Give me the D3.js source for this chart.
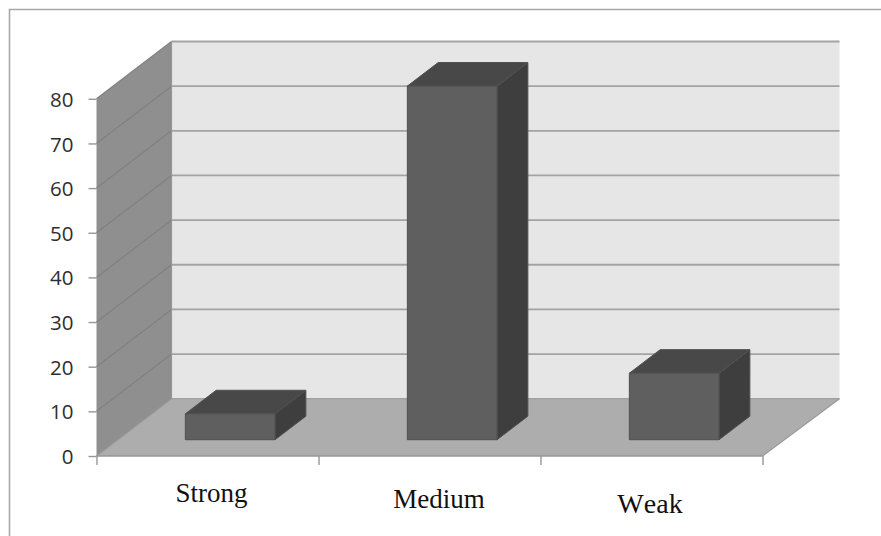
<!DOCTYPE html>
<html>
<head>
<meta charset="utf-8">
<script src="https://cdn.jsdelivr.net/npm/d3@7/dist/d3.min.js"></script>
<style>
  html, body { margin: 0; padding: 0; background: #fff; }
  svg { display: block; }
</style>
</head>
<body>
<svg id="chart" width="881" height="536"></svg>
<script>
// Category counts shown as a 3-D column chart
const categories = ["Strong", "Medium", "Weak"];
const values = [5.8, 79.2, 14.9];
const yTicks = [0, 10, 20, 30, 40, 50, 60, 70, 80];

const width = 881, height = 536;
const plot = { left: 96.5, right: 762.5, bottom: 456, top: 98.8 };
// Offset from the front of the floor to the back wall
const depth = { dx: 75, dy: -57.3 };
// The back wall and floor run slightly past the right-hand floor corner
const backOverhang = 2;
// Near and far faces of each column, as fractions of the floor depth
const barDepth = { near: 0.284, far: 0.695 };
// Columns sit a little right of the centre of their category slots
const barShift = 1.4;

const svg = d3.select("#chart");

const y = d3.scaleLinear().domain([0, 80]).range([plot.bottom, plot.top]);
const x = d3.scaleBand().domain(categories)
  .range([plot.left + barShift, plot.right + barShift])
  .paddingInner(0.596).paddingOuter(0.298);
const edge = d3.scaleLinear().domain([0, categories.length]).range([plot.left, plot.right]);

// Oblique projection: data-space x (px), value, depth fraction -> screen point
const project = (px, v, d) => [px + depth.dx * d, y(v) + depth.dy * d];
const line = d3.line();
const poly = pts => line(pts) + "Z";
const backRight = plot.right + backOverhang;

// Outer frame
svg.append("path")
  .attr("d", `M9.5,${height}V9.5H${width}`)
  .attr("fill", "none").attr("stroke", "#a8a8a8").attr("stroke-width", 1.6);

// Walls and floor
svg.append("path")
  .attr("d", poly([project(plot.left, 0, 1), project(backRight, 0, 1), project(backRight, 80, 1), project(plot.left, 80, 1)]))
  .attr("fill", "#e6e6e6");
svg.append("path")
  .attr("d", poly([project(plot.left, 0, 0), project(plot.left, 0, 1), project(plot.left, 80, 1), project(plot.left, 80, 0)]))
  .attr("fill", "#8f8f8f");
svg.append("path")
  .attr("d", poly([project(plot.left, 0, 0), project(plot.right, 0, 0), project(backRight, 0, 1), project(plot.left, 0, 1)]))
  .attr("fill", "#adadad");

// Gridlines run along the side wall and across the back wall
const grid = svg.append("g").attr("fill", "none");
yTicks.filter(t => t > 0).forEach(t => {
  grid.append("path")
    .attr("d", line([project(plot.left, t, 0), project(plot.left, t, 1)]))
    .attr("stroke", "#808080").attr("stroke-width", 1.2);
  grid.append("path")
    .attr("d", line([project(plot.left, t, 1), project(backRight, t, 1)]))
    .attr("stroke", "#a3a3a3").attr("stroke-width", 1.8);
});
grid.append("path")
  .attr("d", line([project(plot.left, 0, 1), project(plot.left, 80, 1)]))
  .attr("stroke", "#969696").attr("stroke-width", 1.2);
grid.append("path")
  .attr("d", line([project(plot.left, 0, 1), project(backRight, 0, 1)]))
  .attr("stroke", "#a0a0a0").attr("stroke-width", 1.2);
grid.append("path")
  .attr("d", line([project(plot.right, 0, 0), project(backRight, 0, 1)]))
  .attr("stroke", "#9a9a9a").attr("stroke-width", 1.2);
grid.append("path")
  .attr("d", line([project(plot.left, 0, 0), project(plot.left, 0, 1)]))
  .attr("stroke", "#969696").attr("stroke-width", 1.2);

// Columns: front, top and right faces
const bars = svg.append("g").selectAll("g")
  .data(categories.map((c, i) => ({ c, v: values[i] })))
  .join("g");
const bw = x.bandwidth();
const face = (fn, fill) => bars.append("path")
  .attr("d", d => poly(fn(x(d.c), d.v)))
  .attr("fill", fill).attr("stroke", "#505050").attr("stroke-width", 1)
  .attr("stroke-linejoin", "round");
face((l, v) => [project(l + bw, 0, barDepth.near), project(l + bw, 0, barDepth.far), project(l + bw, v, barDepth.far), project(l + bw, v, barDepth.near)], "#3e3e3e");
face((l, v) => [project(l, v, barDepth.near), project(l + bw, v, barDepth.near), project(l + bw, v, barDepth.far), project(l, v, barDepth.far)], "#484848");
face((l, v) => [project(l, 0, barDepth.near), project(l + bw, 0, barDepth.near), project(l + bw, v, barDepth.near), project(l, v, barDepth.near)], "#5f5f5f");

// Front edge of the floor
svg.append("path")
  .attr("d", line([project(plot.left, 0, 0), project(plot.right, 0, 0)]))
  .attr("stroke", "#969696").attr("stroke-width", 1.5);

// Value axis
const yAxis = svg.append("g")
  .attr("transform", `translate(${plot.left},0)`)
  .call(d3.axisLeft(y).tickValues(yTicks).tickSize(8).tickPadding(15));
yAxis.select(".domain").remove();
yAxis.selectAll("line").attr("stroke", "#969696").attr("stroke-width", 1.4);
yAxis.selectAll("text")
  .attr("dy", "0.37em")
  .attr("font-family", "'Open Sans', sans-serif").attr("font-size", 20.5).attr("fill", "#2e2e2e");

// Category separators below the floor
const xAxis = svg.append("g")
  .attr("transform", `translate(0,${plot.bottom})`)
  .call(d3.axisBottom(edge).tickValues(d3.range(categories.length + 1)).tickSize(9).tickFormat(""));
xAxis.select(".domain").remove();
xAxis.selectAll("line").attr("stroke", "#969696").attr("stroke-width", 1.4);

// Category names sit slightly staggered under the columns
const labelLayout = [
  { cx: 211.5, base: 502, size: 27 },
  { cx: 439, base: 508, size: 27 },
  { cx: 650, base: 513, size: 28 }
];
svg.append("g").selectAll("text")
  .data(categories)
  .join("text")
  .attr("x", (d, i) => labelLayout[i].cx)
  .attr("y", (d, i) => labelLayout[i].base)
  .attr("text-anchor", "middle")
  .attr("font-family", "'Liberation Serif', serif")
  .attr("font-size", (d, i) => labelLayout[i].size)
  .style("font-kerning", "none")
  .attr("fill", "#111")
  .text(d => d);
</script>
</body>
</html>
